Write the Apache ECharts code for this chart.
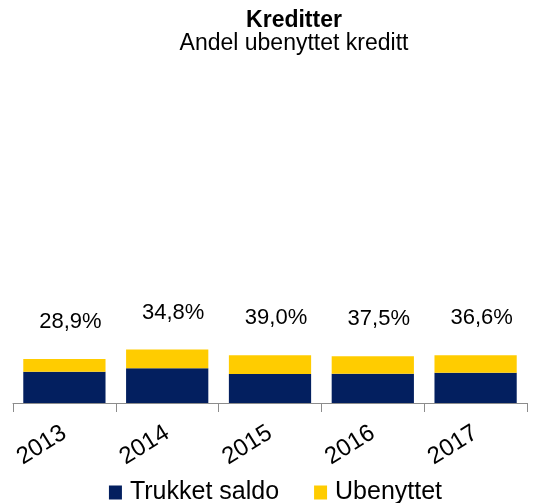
<!DOCTYPE html>
<html>
<head>
<meta charset="utf-8">
<script src="https://cdn.jsdelivr.net/npm/echarts@6/dist/echarts.min.js"></script>
<style>
  html, body { margin: 0; padding: 0; background: #fff; }
  #chart { width: 551px; height: 503px; }
</style>
</head>
<body>
<div id="chart"></div>
<script>
// data (units arbitrary, scale kept consistent)
let years = ['2013', '2014', '2015', '2016', '2017'];
let trukket = [9.2, 10.2, 8.5, 8.6, 8.9];
let ubenyttet = [3.7, 5.5, 5.5, 5.1, 5.1];
let andel = ['28,9%', '34,8%', '39,0%', '37,5%', '36,6%'];

let font = '"Liberation Sans", Arial, sans-serif';
let myChart = echarts.init(document.getElementById('chart'));

let option = {
    animation: false,
    title: {
        text: 'Kreditter',
        subtext: 'Andel ubenyttet kreditt',
        left: 294,
        top: 11,
        padding: 0,
        textAlign: 'center',
        itemGap: 0,
        textStyle: { fontFamily: font, fontSize: 23, lineHeight: 20, fontWeight: 'bold', color: '#000' },
        subtextStyle: { fontFamily: font, fontSize: 23, lineHeight: 20, color: '#000' }
    },
    legend: {
        top: 480,
        left: 'center',
        padding: 0,
        icon: 'rect',
        itemWidth: 13,
        itemHeight: 14,
        itemGap: 35,
        textStyle: { fontFamily: font, fontSize: 25, color: '#000', padding: [0, 0, 0, 3] },
        data: ['Trukket saldo', 'Ubenyttet']
    },
    grid: { left: 13, right: 24, top: 62, bottom: 100 },
    xAxis: {
        type: 'category',
        data: years,
        axisLine: { lineStyle: { color: '#8c8c8c', width: 1 } },
        axisTick: { show: true, length: 9, lineStyle: { color: '#8c8c8c' } },
        axisLabel: {
            rotate: 32,
            margin: 28,
            fontFamily: font,
            fontSize: 24,
            color: '#000'
        }
    },
    yAxis: {
        type: 'value',
        min: 0,
        max: 100,
        show: false,
        splitLine: { show: false }
    },
    series: [
        {
            name: 'Trukket saldo',
            type: 'bar',
            stack: 'k',
            barWidth: '80%',
            itemStyle: { color: '#031F5F' },
            data: trukket
        },
        {
            name: 'Ubenyttet',
            type: 'bar',
            stack: 'k',
            barWidth: '80%',
            itemStyle: { color: '#FFCC00' },
            label: {
                show: true,
                position: 'top',
                distance: 26,
                offset: [6, 0],
                fontFamily: font,
                fontSize: 22,
                color: '#000',
                formatter: (p) => andel[p.dataIndex]
            },
            data: ubenyttet
        }
    ]
};
myChart.setOption(option);
</script>
</body>
</html>
